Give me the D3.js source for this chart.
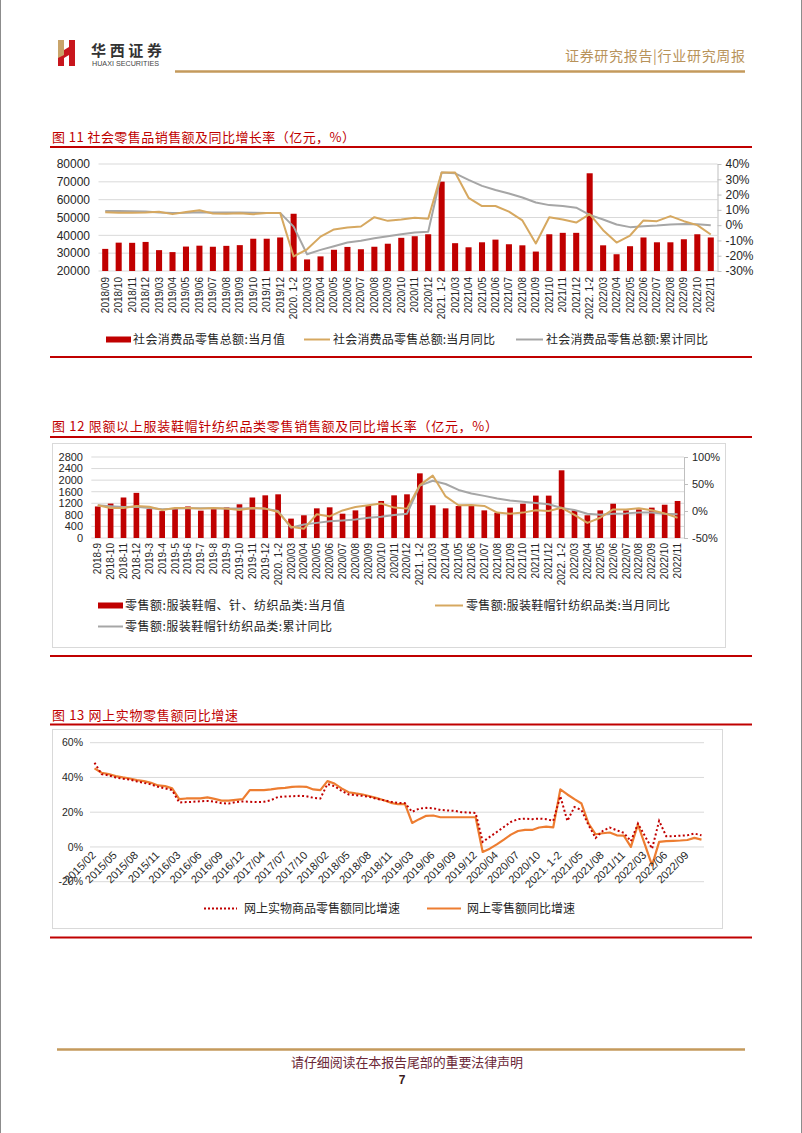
<!DOCTYPE html>
<html lang="zh-CN">
<head>
<meta charset="UTF-8" />
<title>社会零售 / 服装 / 网上零售</title>
<script src="https://d3js.org/d3.v7.min.js"></script>
<style>
  body { margin: 0; background: #fff; }
  text { font-family: "Liberation Sans", Arial, "Noto Sans CJK SC", sans-serif; }
  .cjk { font-family: "Noto Sans CJK SC", sans-serif; }
</style>
</head>
<body>
<div id="page"></div>
<script>
// ---------- 图11 数据 ----------
const cats11 = ["2018/09","2018/10","2018/11","2018/12","2019/03","2019/04","2019/05","2019/06","2019/07","2019/08","2019/09","2019/10","2019/11","2019/12",
  "2020. 1-2","2020/03","2020/04","2020/05","2020/06","2020/07","2020/08","2020/09","2020/10","2020/11","2020/12",
  "2021. 1-2","2021/03","2021/04","2021/05","2021/06","2021/07","2021/08","2021/09","2021/10","2021/11","2021/12",
  "2022. 1-2","2022/03","2022/04","2022/05","2022/06","2022/07","2022/08","2022/09","2022/10","2022/11"];
const retailValue = [32400,35900,35800,36300,31700,30600,33700,34200,33600,34100,34500,38100,38100,38800,
  52100,26500,28200,31900,33500,32200,33600,35300,38600,39500,40600,
  70100,35600,33300,36100,37600,35000,34400,30900,40600,41400,41400,
  74800,34400,29400,33900,38800,36100,36100,37800,40600,38800];
const retailMonthYoy = [8.5,8.1,8.1,8.2,8.7,7.2,8.6,9.8,7.6,7.5,7.8,7.2,8.0,8.0,
  -20.5,-15.8,-7.5,-2.8,-1.5,-0.9,5.2,2.8,3.7,4.8,4.2,
  34.4,34.4,17.9,12.5,12.5,8.8,3.1,-12.0,5.2,3.7,1.7,
  7.2,-3.3,-11.4,-6.8,3.1,2.6,5.9,2.6,0.0,-6.1];
const retailCumYoy = [9.2,9.2,9.1,9.0,8.3,8.0,8.1,8.4,8.3,8.2,8.2,8.1,8.0,8.0,
  -1.0,-19.0,-16.2,-13.8,-11.4,-10.2,-8.6,-7.2,-5.9,-4.8,-4.4,
  34.4,33.9,29.6,25.7,23.0,20.7,18.1,14.8,13.1,12.5,11.4,
  6.7,3.7,0.4,-1.3,-0.7,-0.2,0.5,0.7,0.6,-0.1];
const ticksL11 = [20000,30000,40000,50000,60000,70000,80000];
const ticksR11 = [-30,-20,-10,0,10,20,30,40];

// ---------- 图12 数据 ----------
const cats12 = ["2018-9","2018-10","2018-11","2018-12","2019-3","2019-4","2019-5","2019-6","2019-7","2019-8","2019-9","2019-10","2019-11","2019-12",
  "2020. 1-2","2020/03","2020/04","2020/05","2020/06","2020/07","2020/08","2020/09","2020/10","2020/11","2020/12",
  "2021. 1-2","2021/03","2021/04","2021/05","2021/06","2021/07","2021/08","2021/09","2021/10","2021/11","2021/12",
  "2022. 1-2","2022/03","2022/04","2022/05","2022/06","2022/07","2022/08","2022/09","2022/10","2022/11"];
const apparelValue = [1090,1190,1400,1560,1000,930,1010,1090,945,1000,1060,1165,1400,1475,
  1510,670,785,1025,1060,840,955,1130,1280,1475,1510,
  2235,1130,1025,1105,1130,955,875,1050,1185,1465,1465,
  2340,955,785,955,1185,955,990,1050,1150,1280];
const apparelMonthYoy = [10.6,5.6,5.6,9.4,8.0,1.9,5.6,5.6,4.4,5.6,4.4,1.9,5.6,4.4,
  -2,-29,-33,-6,-10,1,7.5,10.6,13.8,6.3,4.4,
  48,65.6,27,10.6,11,9.4,-3,-5,-3,1.3,0,
  6,-7,-22,-12.5,3,3,5,1.3,-4.4,-12.5];
const apparelCumYoy = [10.6,8.8,7.5,8.0,5.6,3.1,4.4,5.0,5.0,5.0,4.4,4.4,5.0,4.4,
  0,-31,-25,-22,-19,-17.5,-15.6,-12.5,-10.6,-7.5,-5,
  47,56,50,39,32.5,28,23,19.4,17,15,12.5,
  5.6,1.9,-5,-7,-5,-4.4,-3,-3,-5,-6];
const ticksL12 = [0,400,800,1200,1600,2000,2400,2800];
const ticksR12 = [-50,0,50,100];

// ---------- 图13 数据 ----------
const cats13 = [
  "2015/02","2015/03","2015/04","2015/05","2015/06","2015/07","2015/08","2015/09","2015/10","2015/11","2015/12",
  "2016/02","2016/03","2016/04","2016/05","2016/06","2016/07","2016/08","2016/09","2016/10","2016/11","2016/12",
  "2017/02","2017/03","2017/04","2017/05","2017/06","2017/07","2017/08","2017/09","2017/10","2017/11","2017/12",
  "2018/02","2018/03","2018/04","2018/05","2018/06","2018/07","2018/08","2018/09","2018/10","2018/11","2018/12",
  "2019/02","2019/03","2019/04","2019/05","2019/06","2019/07","2019/08","2019/09","2019/10","2019/11","2019/12",
  "2020. 1-2","2020/03","2020/04","2020/05","2020/06","2020/07","2020/08","2020/09","2020/10","2020/11","2020/12",
  "2021. 1-2","2021/03","2021/04","2021/05","2021/06","2021/07","2021/08","2021/09","2021/10","2021/11","2021/12",
  "2022. 1-2","2022/03","2022/04","2022/05","2022/06","2022/07","2022/08","2022/09","2022/10","2022/11"];
const ticks13 = ["2015/02","2015/05","2015/08","2015/11","2016/03","2016/06","2016/09","2016/12","2017/04","2017/07","2017/10",
  "2018/02","2018/05","2018/08","2018/11","2019/03","2019/06","2019/09","2019/12","2020/04","2020/07","2020/10",
  "2021. 1-2","2021/05","2021/08","2021/11","2022/03","2022/06","2022/09"];
const onlineGoodsYoy = [48.5,41.9,41.2,40.0,39.2,38.8,37.7,36.9,36.0,34.6,33.7,
  32.7,25.6,25.8,26.0,26.3,26.5,26.0,25.2,25.0,25.8,26.2,
  26.0,25.8,26.0,26.9,28.8,29.0,29.2,29.4,29.2,28.3,27.9,
  36.2,35.0,32.3,30.2,29.8,29.4,28.8,27.7,26.9,26.0,25.4,
  25.2,20.2,22.1,22.5,22.3,21.3,21.0,20.8,20.0,19.8,19.6,
  2.9,5.8,8.6,11.5,14.4,16.0,16.3,16.0,16.3,16.0,15.0,
  29.2,15.0,23.0,21.2,12.5,5.2,9.2,11.2,9.6,8.1,3.3,
  13.5,6.2,-1.0,15.0,6.2,6.2,6.5,6.7,7.7,6.7];
const onlineRetailYoy = [45.2,42.7,41.9,40.8,40.0,39.4,38.5,37.9,36.9,35.4,35.0,
  33.7,27.5,27.9,27.9,28.0,28.5,27.7,26.7,26.7,27.1,27.5,
  32.7,32.7,32.7,33.1,33.7,34.0,34.6,34.8,34.6,33.1,32.7,
  37.9,36.5,33.7,31.5,30.8,30.2,29.2,28.1,26.9,25.4,24.6,
  24.6,13.8,16.0,17.9,18.1,17.1,17.1,17.1,17.1,17.1,17.1,
  -2.9,-1.0,1.5,4.2,7.1,9.2,9.8,9.8,11.2,11.7,11.3,
  33.1,30.2,27.5,25.0,13.5,7.3,7.9,8.3,6.7,6.5,0.0,
  12.9,1.2,-10.6,2.9,3.3,3.5,3.7,4.0,5.2,4.2];
const ticks13Y = [-20,0,20,40,60];

// ---------- 颜色 ----------
const RED = "#c00000", GOLD = "#d6a860", GREY = "#a6a6a6", ORANGE = "#ed7d31";
const GRID = "#d9d9d9", AXIS = "#bfbfbf", TXT = "#262626";

const svg = d3.select("#page").append("svg")
  .attr("width", 802).attr("height", 1133);

function hline(x1, x2, y, color, w) {
  svg.append("line").attr("x1", x1).attr("x2", x2).attr("y1", y).attr("y2", y)
    .attr("stroke", color).attr("stroke-width", w);
}
function cjkText(x, y, str, size, color, len, anchor) {
  const t = svg.append("text").attr("class", "cjk")
    .attr("x", x).attr("y", y).attr("font-size", size).attr("fill", color)
    .attr("text-anchor", anchor || "start").text(str);
  if (len) t.attr("textLength", len).attr("lengthAdjust", "spacing");
  return t;
}

// 页面边线
svg.append("line").attr("x1", 0.5).attr("x2", 0.5).attr("y1", 0).attr("y2", 1133).attr("stroke", "#8c8c8c");
svg.append("line").attr("x1", 801.5).attr("x2", 801.5).attr("y1", 0).attr("y2", 1133).attr("stroke", "#8c8c8c");

// ---------- 页眉 ----------
const logo = svg.append("g");
logo.append("rect").attr("x", 58).attr("y", 40).attr("width", 6).attr("height", 26).attr("fill", "#c9a46a");
logo.append("path").attr("d", "M64,50 L69,47 L69,40 L75,40 L75,66 L69,66 L69,55 L64,58 Z").attr("fill", "#c8161d");
logo.append("path").attr("d", "M58,58 L64,55 L64,66 L58,66 Z").attr("fill", "#c8161d");
svg.append("text").attr("class", "cjk").attr("x", 91).attr("y", 56).attr("font-size", 15)
  .attr("font-weight", 700).attr("fill", "#333").attr("textLength", 71).attr("lengthAdjust", "spacing").text("华西证券");
svg.append("text").attr("x", 92).attr("y", 65.5).attr("font-size", 7).attr("fill", "#444")
  .attr("textLength", 67).attr("lengthAdjust", "spacingAndGlyphs").text("HUAXI SECURITIES");
cjkText(745, 61, "证券研究报告|行业研究周报", 14, "#b8935a", 180, "end");
hline(175, 745, 71.5, "#c49a5c", 2.5);

// ---------- 组合图（柱 + 两条线） ----------
function combo(o) {
  const n = o.cats.length;
  const x = d3.scaleBand().domain(o.cats).range([o.x0, o.x1])
    .paddingInner(o.pad).paddingOuter(o.pad / 2);
  const yL = d3.scaleLinear().domain([o.ticksL[0], o.ticksL[o.ticksL.length - 1]]).range([o.yB, o.yT]);
  const yR = d3.scaleLinear().domain([o.ticksR[0], o.ticksR[o.ticksR.length - 1]]).range([o.yB, o.yT]);
  const g = svg.append("g");
  const cx = c => x(c) + x.bandwidth() / 2;

  g.selectAll(".grid").data(o.ticksL).enter().append("line")
    .attr("x1", o.x0).attr("x2", o.x1)
    .attr("y1", d => yL(d)).attr("y2", d => yL(d))
    .attr("stroke", GRID).attr("stroke-width", 1);

  g.selectAll(".lt").data(o.ticksL).enter().append("text")
    .attr("x", o.lx).attr("y", d => yL(d)).attr("dy", "0.35em")
    .attr("text-anchor", "end").attr("font-size", o.fs).attr("fill", TXT)
    .text(d => d);

  const ax = g.append("g").attr("transform", `translate(${o.x1},0)`)
    .call(d3.axisRight(yR).tickValues(o.ticksR).tickSize(4).tickSizeOuter(0).tickPadding(4).tickFormat(d => d + "%"));
  ax.select(".domain").attr("stroke", AXIS);
  ax.selectAll(".tick line").attr("stroke", AXIS);
  ax.selectAll(".tick text").attr("font-size", o.fs).attr("fill", TXT)
    .attr("font-family", "Liberation Sans, Arial, sans-serif");

  g.selectAll(".bar").data(o.bars).enter().append("rect")
    .attr("x", (d, i) => x(o.cats[i])).attr("width", x.bandwidth())
    .attr("y", d => yL(d)).attr("height", d => o.yB - yL(d))
    .attr("fill", RED);

  const line = d3.line().x((d, i) => cx(o.cats[i])).y(d => yR(d));
  g.append("path").datum(o.cum).attr("d", line)
    .attr("fill", "none").attr("stroke", GREY).attr("stroke-width", 2).attr("stroke-linejoin", "round");
  g.append("path").datum(o.month).attr("d", line)
    .attr("fill", "none").attr("stroke", GOLD).attr("stroke-width", 2).attr("stroke-linejoin", "round");

  g.selectAll(".xl").data(o.cats).enter().append("text")
    .attr("transform", d => `translate(${cx(d) + 3.5},${o.yB + o.xlGap}) rotate(-90)`)
    .attr("text-anchor", "end").attr("font-size", o.xfs).attr("fill", TXT)
    .text(d => d);
}

// ---------- 图11 ----------
cjkText(52, 142, "图 11 社会零售品销售额及同比增长率（亿元，%）", 13, RED, 303);
hline(50, 752, 147, RED, 2);
combo({ cats: cats11, bars: retailValue, month: retailMonthYoy, cum: retailCumYoy,
  ticksL: ticksL11, ticksR: ticksR11, x0: 98.5, x1: 717.5, yT: 164, yB: 271,
  pad: 0.55, lx: 90, fs: 12, xfs: 10, xlGap: 6 });
// 图例
svg.append("rect").attr("x", 106).attr("y", 336.5).attr("width", 25).attr("height", 6).attr("fill", RED);
cjkText(133, 344, "社会消费品零售总额:当月值", 12, TXT, 152);
hline(304, 330, 339.5, GOLD, 2);
cjkText(333, 344, "社会消费品零售总额:当月同比", 12, TXT, 162);
hline(516, 543, 339.5, GREY, 2);
cjkText(546, 344, "社会消费品零售总额:累计同比", 12, TXT, 162);
hline(50, 752, 357, RED, 2);

// ---------- 图12 ----------
cjkText(52, 431, "图 12 限额以上服装鞋帽针纺织品类零售销售额及同比增长率（亿元，%）", 13, RED, 446);
hline(50, 752, 437, RED, 2);
svg.append("rect").attr("x", 52.5).attr("y", 443.5).attr("width", 673).attr("height", 204)
  .attr("fill", "none").attr("stroke", GRID);
combo({ cats: cats12, bars: apparelValue, month: apparelMonthYoy, cum: apparelCumYoy,
  ticksL: ticksL12, ticksR: ticksR12, x0: 91.3, x1: 684, yT: 457, yB: 538,
  pad: 0.56, lx: 83, fs: 11, xfs: 10, xlGap: 5 });
svg.append("rect").attr("x", 98).attr("y", 602.5).attr("width", 25).attr("height", 6).attr("fill", RED);
cjkText(125, 610, "零售额:服装鞋帽、针、纺织品类:当月值", 12, TXT, 220);
hline(435, 463, 605.5, GOLD, 2);
cjkText(466, 610, "零售额:服装鞋帽针纺织品类:当月同比", 12, TXT, 204);
hline(98, 123, 626.5, GREY, 2);
cjkText(125, 631, "零售额:服装鞋帽针纺织品类:累计同比", 12, TXT, 207);
hline(50, 752, 656, RED, 2);

// ---------- 图13 ----------
cjkText(52, 720, "图 13 网上实物零售额同比增速", 13, RED, 186);
hline(50, 752, 724.5, RED, 2);
svg.append("rect").attr("x", 52.5).attr("y", 729.5).attr("width", 670).attr("height", 199)
  .attr("fill", "none").attr("stroke", GRID);
(function () {
  const x = d3.scaleBand().domain(cats13).range([91, 705]);
  const y = d3.scaleLinear().domain([-20, 60]).range([881.7, 742.7]);
  const cx = c => x(c) + x.bandwidth() / 2;
  const g = svg.append("g");
  g.selectAll(".grid").data(ticks13Y).enter().append("line")
    .attr("x1", 90).attr("x2", 704).attr("y1", d => y(d)).attr("y2", d => y(d))
    .attr("stroke", GRID);
  const line = d3.line().x((d, i) => cx(cats13[i])).y(d => y(d));
  g.append("path").datum(onlineRetailYoy).attr("d", line)
    .attr("fill", "none").attr("stroke", ORANGE).attr("stroke-width", 2.2).attr("stroke-linejoin", "round");
  g.append("path").datum(onlineGoodsYoy).attr("d", line)
    .attr("fill", "none").attr("stroke", RED).attr("stroke-width", 2).attr("stroke-dasharray", "2,2.4");
  g.selectAll(".lt").data(ticks13Y).enter().append("text")
    .attr("x", 83).attr("y", d => y(d)).attr("dy", "0.35em").attr("text-anchor", "end")
    .attr("font-size", 10.5).attr("fill", TXT).text(d => d + "%");
  g.selectAll(".xl").data(ticks13).enter().append("text")
    .attr("transform", d => `translate(${cx(d) + 2},${y(0) + 9}) rotate(-45)`)
    .attr("text-anchor", "end").attr("font-size", 11).attr("fill", TXT)
    .text(d => d);
})();
svg.append("line").attr("x1", 204).attr("x2", 237).attr("y1", 908.5).attr("y2", 908.5)
  .attr("stroke", RED).attr("stroke-width", 2).attr("stroke-dasharray", "2,2");
cjkText(244, 913, "网上实物商品零售额同比增速", 12, TXT, 156);
hline(427, 461, 908.5, ORANGE, 2.2);
cjkText(467, 913, "网上零售额同比增速", 12, TXT, 108);
hline(50, 752, 937.5, RED, 2);

// ---------- 页脚 ----------
hline(57, 745, 1049.5, "#c49a5c", 2.5);
cjkText(407, 1067, "请仔细阅读在本报告尾部的重要法律声明", 13, "#6b2737", 232, "middle");
svg.append("text").attr("x", 402).attr("y", 1084).attr("text-anchor", "middle")
  .attr("font-size", 12).attr("font-weight", 700).attr("fill", "#3a1a20").text("7");
</script>
</body>
</html>
